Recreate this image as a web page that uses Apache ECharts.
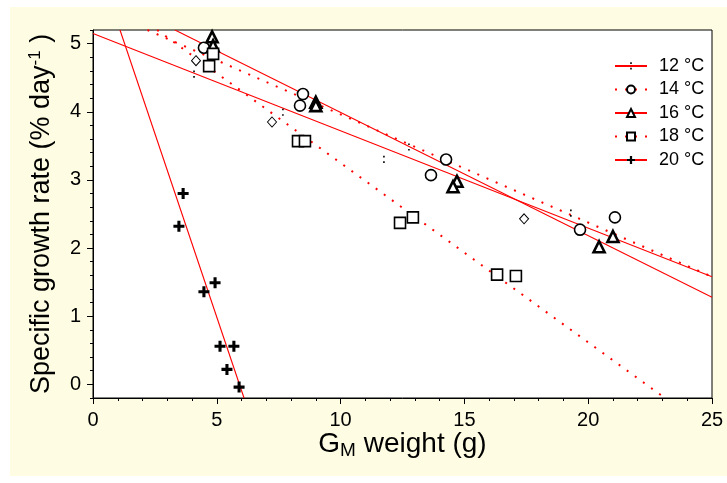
<!DOCTYPE html>
<html><head><meta charset="utf-8">
<script src="https://cdn.jsdelivr.net/npm/echarts@6/dist/echarts.min.js"></script>
<style>html,body{margin:0;padding:0;background:#fff}#c{width:727px;height:483px}</style>
</head><body><div id="c"></div>
<script>
// ---- data ----
const legendNames = ['12 °C', '14 °C', '16 °C', '18 °C', '20 °C'];
const pts12 = [[4.08, 4.55], [7.67, 3.99], [11.75, 3.30], [12.76, 3.48], [19.3, 2.51]];
const ptsDiamond = [[4.16, 4.75], [7.23, 3.85], [17.41, 2.43]];
const pts14 = [[4.48, 4.94], [8.48, 4.26], [8.36, 4.09], [14.26, 3.30], [13.65, 3.07], [19.67, 2.27], [21.08, 2.45]];
const pts16 = [[4.81, 5.10], [4.85, 4.97], [9.0, 4.14], [9.0, 4.09], [14.7, 2.98], [14.54, 2.90], [21.0, 2.17], [20.44, 2.02]];
const pts18 = [[4.85, 4.85], [4.69, 4.67], [8.28, 3.57], [8.56, 3.57], [12.4, 2.37], [12.92, 2.45], [16.32, 1.61], [17.08, 1.59]];
const pts20 = [[3.64, 2.80], [3.47, 2.32], [4.48, 1.36], [4.93, 1.49], [5.13, 0.56], [5.69, 0.56], [5.41, 0.22], [5.9, -0.04]];
const fit12 = [[0, 5.15], [25, 1.58]];
const fit14 = [[2.2, 5.2], [25, 1.58]];
const fit16 = [[3.31, 5.2], [25, 1.28]];
const fit18 = [[2.59, 5.2], [23.1, -0.2]];
const fit20 = [[1.09, 5.2], [6.1, -0.2]];
const xRange = [0, 25];
const yRange = [-0.2, 5.2];
const yLabelRange = [0, 5];

// ---- layout ----
const W = 727, H = 483;
const G = { left: 93, right: 15, top: 30, bottom: 85 };
const plotH = H - G.top - G.bottom;
const yPix = v => G.top + (yRange[1] - v) / (yRange[1] - yRange[0]) * plotH;
const G2 = { left: G.left, right: G.right, top: yPix(yLabelRange[1]), bottom: H - yPix(yLabelRange[0]) };

const RED = '#ff0000';
const dotted = [2, 8];
const colonSym = 'path://M0,0L0.01,0L0,0.01Z M8,8L7.99,8L8,7.99Z M3.2,0.3h1.6v1.6h-1.6z M3.2,5.8h1.6v1.6h-1.6z';
const plusSym = 'path://M3.6,0h2.8v3.6h3.6v2.8h-3.6v3.6h-2.8v-3.6h-3.6v-2.8h3.6z';

const markers = {
  '12 °C': { symbol: colonSym, size: 8, style: { color: '#000', opacity: 1 } },
  '14 °C': { symbol: 'circle', size: 11, style: { color: '#fff', borderColor: '#000', borderWidth: 1.6, opacity: 1 } },
  '16 °C': { symbol: 'triangle', size: 11, style: { color: '#fff', borderColor: '#000', borderWidth: 2.6, opacity: 1 } },
  '18 °C': { symbol: 'rect', size: 11, style: { color: '#fff', borderColor: '#000', borderWidth: 1.6, opacity: 1 } },
  '20 °C': { symbol: plusSym, size: 11, style: { color: '#000', opacity: 1 } }
};
const fits = { '12 °C': fit12, '14 °C': fit14, '16 °C': fit16, '18 °C': fit18, '20 °C': fit20 };
const pts = { '12 °C': pts12, '14 °C': pts14, '16 °C': pts16, '18 °C': pts18, '20 °C': pts20 };
const lineType = { '12 °C': 'solid', '14 °C': dotted, '16 °C': 'solid', '18 °C': dotted, '20 °C': 'solid' };

const series = [];
legendNames.forEach(n => {
  const m = markers[n];
  series.push({
    name: n, type: 'line', xAxisIndex: 0, yAxisIndex: 0, data: fits[n],
    symbol: m.symbol, symbolSize: m.size, showSymbol: false, symbolKeepAspect: true,
    lineStyle: { color: RED, width: lineType[n] === 'solid' ? 1.1 : 2, type: lineType[n] },
    itemStyle: m.style, silent: true, animation: false, z: 2
  });
});
legendNames.forEach(n => {
  const m = markers[n];
  series.push({
    name: n, type: 'scatter', xAxisIndex: 0, yAxisIndex: 0, data: pts[n],
    symbol: m.symbol, symbolSize: m.size, symbolKeepAspect: true,
    itemStyle: m.style, animation: false, z: 3
  });
});
series.push({
  name: 'extra', type: 'scatter', xAxisIndex: 0, yAxisIndex: 0, data: ptsDiamond,
  symbol: 'diamond', symbolSize: [9, 10],
  itemStyle: { color: '#fff', borderColor: '#000', borderWidth: 1, opacity: 1 }, animation: false, z: 3
});

const font = 'Liberation Sans, Arial, sans-serif';
const chart = echarts.init(document.getElementById('c'), null, { renderer: 'canvas' });
chart.setOption({
  backgroundColor: '#ffffff',
  animation: false,
  textStyle: { fontFamily: font },
  graphic: [{
    type: 'rect', z: -10, silent: true,
    shape: { x: 10, y: 7, width: W - 10, height: 469 },
    style: { fill: '#fefde3' }
  }],
  legend: {
    data: legendNames, orient: 'vertical', left: 614, top: 57, padding: 0,
    itemWidth: 32, itemHeight: 10, itemGap: 5.5,
    textStyle: { fontSize: 18, color: '#000', fontFamily: font, padding: [0, 0, 0, 7] },
    selectedMode: false
  },
  grid: [
    { left: G.left, right: G.right, top: G.top, bottom: G.bottom, show: true, backgroundColor: '#fff', borderColor: '#000', borderWidth: 1, z: 0 },
    { left: G2.left, right: G2.right, top: G2.top, bottom: G2.bottom, show: false }
  ],
  xAxis: [
    {
      type: 'value', gridIndex: 0, min: xRange[0], max: xRange[1], interval: 5,
      axisLine: { show: true, onZero: false, lineStyle: { color: '#000', width: 1 } },
      axisTick: { show: true, inside: false, length: 6, lineStyle: { color: '#000' } },
      minorTick: { show: true, splitNumber: 5, length: 3, lineStyle: { color: '#000' } },
      splitLine: { show: false },
      axisLabel: { fontSize: 20, color: '#000', margin: 12, fontFamily: font },
      name: '{a|G}{sub|M}{a| weight (g)}', nameLocation: 'middle', nameGap: 30,
      nameMoveOverlap: false,
      nameTextStyle: {
        rich: {
          a: { fontSize: 28, color: '#000', fontFamily: font },
          sub: { fontSize: 19, color: '#000', fontFamily: font, padding: [13, 0, 0, 0] }
        }
      }
    },
    { type: 'value', gridIndex: 1, min: xRange[0], max: xRange[1], show: false }
  ],
  yAxis: [
    {
      type: 'value', gridIndex: 0, min: yRange[0], max: yRange[1], interval: 0.2,
      axisLine: { show: true, onZero: false, lineStyle: { color: '#000', width: 1 } },
      axisTick: { show: true, inside: false, length: 3, lineStyle: { color: '#000' } },
      axisLabel: { show: false }, splitLine: { show: false }
    },
    {
      type: 'value', gridIndex: 1, min: yLabelRange[0], max: yLabelRange[1], interval: 1,
      axisLine: { show: false, onZero: false },
      axisTick: { show: true, inside: false, length: 6, lineStyle: { color: '#000' } },
      axisLabel: { fontSize: 20, color: '#000', margin: 12, fontFamily: font },
      splitLine: { show: false },
      name: '{a|Specific growth rate (% day}{sup|-1}{a| )}', nameLocation: 'middle', nameGap: 36,
      nameTextStyle: {
        rich: {
          a: { fontSize: 27, color: '#000', fontFamily: font },
          sup: { fontSize: 17, color: '#000', fontFamily: font, padding: [0, 0, 13, 0] }
        }
      }
    }
  ],
  series: series
});
</script></body></html>
